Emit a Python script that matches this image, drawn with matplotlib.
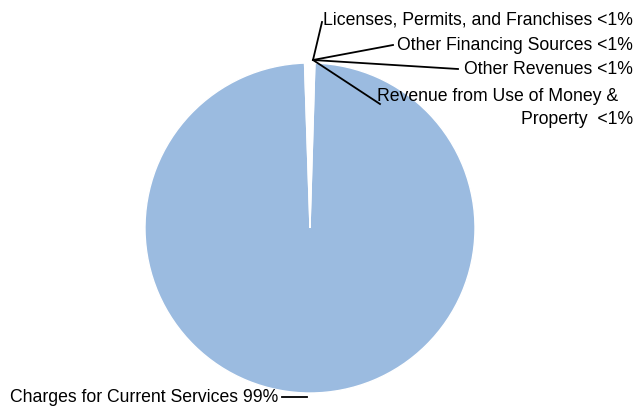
import matplotlib
matplotlib.use("Agg")
import matplotlib.pyplot as plt
import numpy as np

# data
labels = ["Charges for Current Services", "Licenses, Permits, and Franchises",
          "Other Financing Sources", "Other Revenues",
          "Revenue from Use of Money &   \nProperty "]
values = [99.0, 0.3, 0.3, 0.2, 0.2]
pct_labels = ["99%", "<1%", "<1%", "<1%", "<1%"]

plt.rcParams["font.family"] = ["Liberation Sans", "DejaVu Sans"]

W, H = 634, 411
fig = plt.figure(figsize=(W / 100, H / 100), dpi=100)
ax = fig.add_axes([0, 0, 1, 1])

cx, cy, r = 310, H - 228, 165
wedges, _ = ax.pie(values, center=(cx, cy), radius=r, startangle=88.3,
                   counterclock=False, colors=["#9bbbe0"] + ["white"] * 4,
                   wedgeprops=dict(edgecolor="white", linewidth=1))
ax.set_xlim(0, W)
ax.set_ylim(0, H)
ax.set_aspect("equal")
ax.axis("off")

# leader lines start just above the top of the pie
anchor = (cx + 3, cy + r + 3)
# text positions in pixels (x, y from top), right aligned
small_pos = [(633, 20), (633, 45), (633, 69), (633, 108)]
line_end = [(322, 22), (393, 45), (458, 69), (380, 104)]
for i in range(1, 5):
    ex, ey = line_end[i - 1]
    ax.plot([anchor[0], ex], [anchor[1], H - ey], color="black", lw=1.3)
    tx, ty = small_pos[i - 1]
    ax.text(tx, H - ty, labels[i] + " " + pct_labels[i], ha="right", va="center",
            fontsize=12.7, linespacing=1.45)

# bottom label
ax.plot([282, 307], [H - 397, H - 397], color="black", lw=1.3)
ax.text(10, H - 397, labels[0] + " " + pct_labels[0], ha="left", va="center",
        fontsize=12.7)

fig.savefig("out.png", dpi=100)
